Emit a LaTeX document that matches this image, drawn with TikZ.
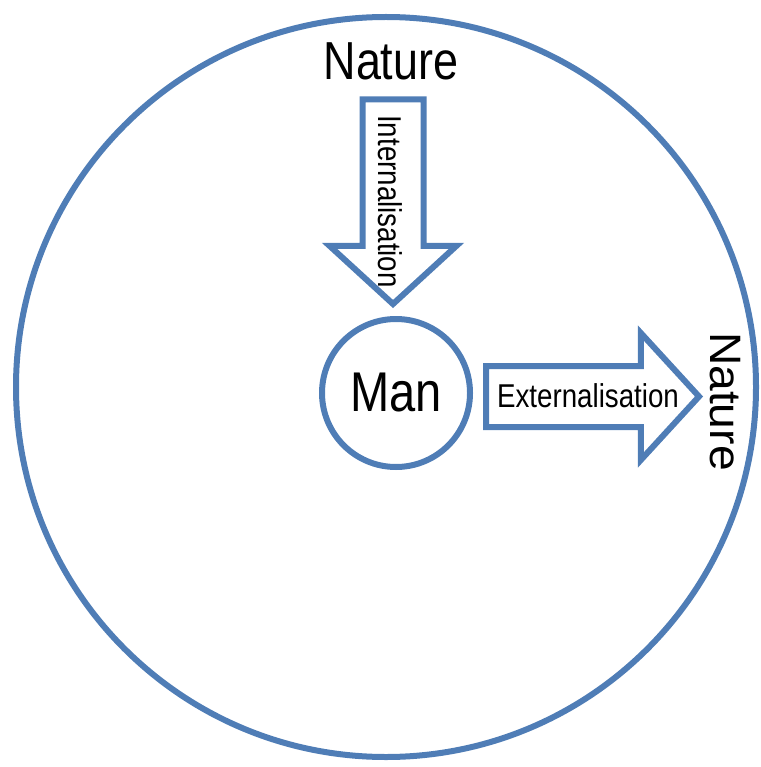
\documentclass[tikz,border=0pt]{standalone}
\usepackage{fontspec}
\setmainfont{Liberation Sans}[FakeStretch=0.84]
\newfontfamily\widefont{Liberation Sans}[FakeStretch=1.05]
\usetikzlibrary{shapes.arrows}
\definecolor{ringblue}{RGB}{79,125,182}

\begin{document}
\begin{tikzpicture}[x=1pt,y=-1pt,
  ring/.style={draw=ringblue,line width=6pt,circle,inner sep=0pt,outer sep=0pt},
  blockarrow/.style={draw=ringblue,line width=6pt,single arrow,single arrow head extend=33pt,single arrow tip angle=95,inner xsep=0pt,inner ysep=27.5pt,outer sep=0pt,anchor=tail},
  lbl/.style={inner sep=0pt,anchor=base}]
\useasboundingbox (0,0) rectangle (760,767);
\node[ring,minimum size=740pt] (world) at (386,387) {};
\node[ring,minimum size=148pt,font=\fontsize{56}{62}\selectfont] (man) at (396,393) {Man};
\node[blockarrow,minimum height=204.5pt,rotate=-90] (intern) at (393,99.5) {};
\node[blockarrow,minimum height=213pt] (extern) at (486,396.5) {};
\node[lbl,font=\fontsize{53.5}{60}\selectfont] (topnature) at (391,80) {Nature};
\node[lbl,rotate=-90,font=\widefont\fontsize{44}{50}\selectfont] (sidenature) at (710.7,401.4) {Nature};
\node[lbl,font=\fontsize{33}{40}\selectfont] (extlbl) at (588,407.3) {Externalisation};
\node[lbl,rotate=-90,font=\fontsize{33}{40}\selectfont] (intlbl) at (378,201.5) {Internalisation};
\end{tikzpicture}
\end{document}
